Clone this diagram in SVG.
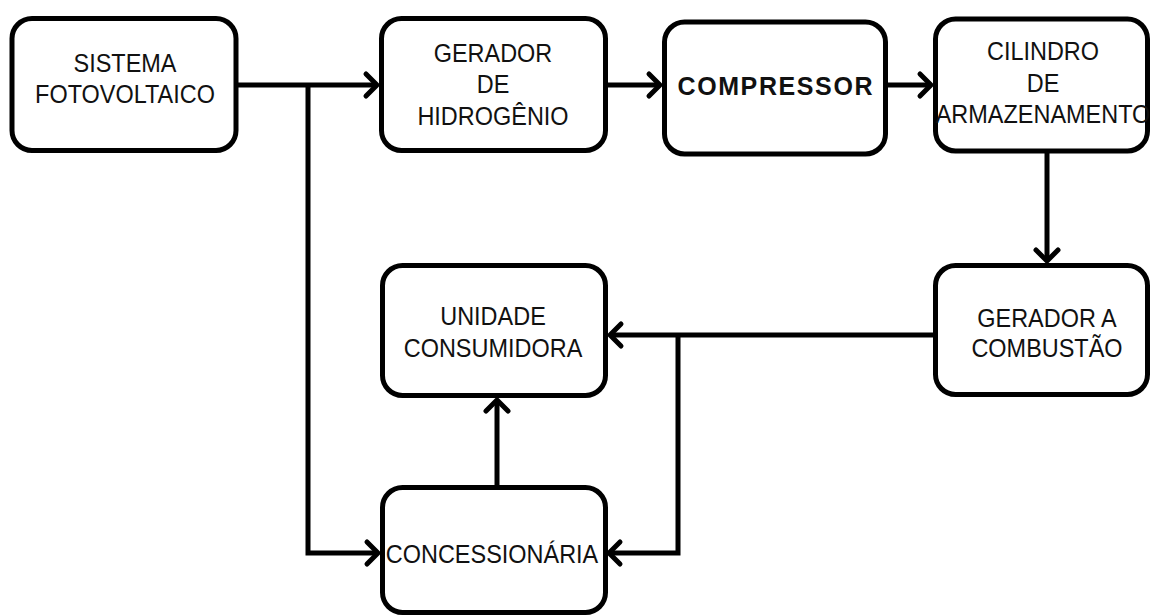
<svg xmlns="http://www.w3.org/2000/svg" width="1151" height="616" viewBox="0 0 1151 616">
<style>
.box{fill:#fff;stroke:#000;stroke-width:5}
.t{font-family:"Liberation Sans",Arial,sans-serif;font-size:25.5px;fill:#111;text-anchor:middle}
.b{font-weight:bold;font-size:25px}
.c{fill:none;stroke:#000;stroke-width:5}
</style>
<defs>
<marker id="ah" markerUnits="userSpaceOnUse" markerWidth="30" markerHeight="30" viewBox="-15 -15 30 30" refX="0" refY="0" orient="auto" overflow="visible">
<path d="M-11,-11 L0,0 L-11,11" fill="none" stroke="#000" stroke-width="5" stroke-linejoin="round" stroke-linecap="round"/>
</marker>
</defs>
<rect width="1151" height="616" fill="#fff"/>
<g id="connectors">
<path class="c" d="M238,85 H377" marker-end="url(#ah)"/>
<path class="c" d="M308,85 V553 H378" marker-end="url(#ah)"/>
<path class="c" d="M608,85 H660" marker-end="url(#ah)"/>
<path class="c" d="M888,85 H931" marker-end="url(#ah)"/>
<path class="c" d="M1047,153 V261" marker-end="url(#ah)"/>
<path class="c" d="M933,335 H610" marker-end="url(#ah)"/>
<path class="c" d="M678,335 V553 H609" marker-end="url(#ah)"/>
<path class="c" d="M497,485 V400" marker-end="url(#ah)"/>
</g>
<g id="sistema">
<rect class="box" x="12" y="18.5" width="224" height="132" rx="20"/>
<text class="t" transform="translate(125,72) scale(0.92,1)">SISTEMA</text>
<text class="t" transform="translate(125,103) scale(0.92,1)">FOTOVOLTAICO</text>
</g>
<g id="gerador-h2">
<rect class="box" x="381.5" y="18.5" width="224" height="132" rx="20"/>
<text class="t" transform="translate(493,62) scale(0.92,1)">GERADOR</text>
<text class="t" transform="translate(493,93) scale(0.92,1)">DE</text>
<text class="t" transform="translate(493,125) scale(0.92,1)">HIDROGÊNIO</text>
</g>
<g id="compressor">
<rect class="box" x="664.5" y="22" width="221" height="132" rx="20"/>
<text class="t b" x="775" y="95" textLength="195" lengthAdjust="spacing">COMPRESSOR</text>
</g>
<g id="cilindro">
<rect class="box" x="935.5" y="19" width="212" height="132" rx="20"/>
<text class="t" transform="translate(1043,60) scale(0.92,1)">CILINDRO</text>
<text class="t" transform="translate(1043,92) scale(0.92,1)">DE</text>
<text class="t" transform="translate(1043,123) scale(0.92,1)">ARMAZENAMENTO</text>
</g>
<g id="gerador-combustao">
<rect class="box" x="935.5" y="265.5" width="212" height="129" rx="20"/>
<text class="t" transform="translate(1047,327) scale(0.92,1)">GERADOR A</text>
<text class="t" transform="translate(1047,357) scale(0.92,1)">COMBUSTÃO</text>
</g>
<g id="unidade">
<rect class="box" x="382.5" y="265.5" width="223" height="130" rx="20"/>
<text class="t" transform="translate(493,325) scale(0.92,1)">UNIDADE</text>
<text class="t" transform="translate(493,357) scale(0.92,1)">CONSUMIDORA</text>
</g>
<g id="concessionaria">
<rect class="box" x="382.5" y="487.5" width="223" height="125" rx="20"/>
<text class="t" transform="translate(492,563) scale(0.92,1)">CONCESSIONÁRIA</text>
</g>
</svg>
